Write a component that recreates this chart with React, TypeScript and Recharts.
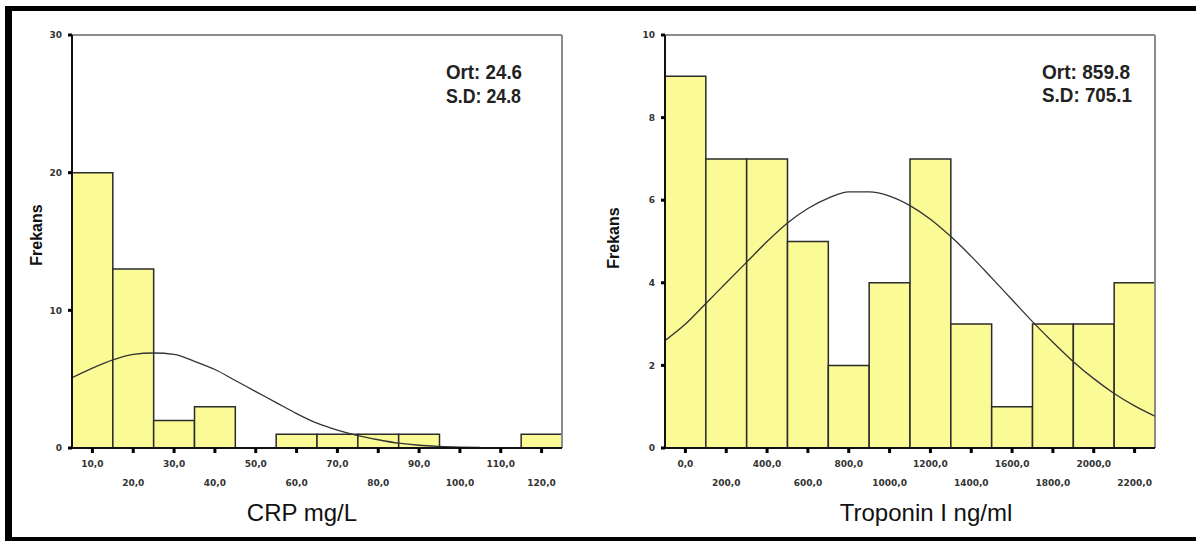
import { Bar, ComposedChart, Line, ReferenceLine, XAxis, YAxis } from "recharts";

// CRP histogram (bin centres, counts) and the fitted curve
const crpBins = [10, 20, 30, 40, 50, 60, 70, 80, 90, 100, 110, 120];
const crpCounts = [20, 13, 2, 3, 0, 1, 1, 1, 1, 0, 0, 1];
const crpCurveX = [5, 10, 15, 20, 25, 30, 35, 40, 45, 50, 55, 60, 65, 70, 75, 80, 85, 90, 95, 100, 105];
const crpCurveY = [5.1, 5.8, 6.4, 6.8, 6.9, 6.8, 6.3, 5.7, 4.9, 4.1, 3.3, 2.5, 1.8, 1.3, 0.9, 0.6, 0.35, 0.2, 0.12, 0.07, 0.04];
const crpYTicks = [0, 10, 20, 30];

// Troponin I histogram
const tropBins = [0, 200, 400, 600, 800, 1000, 1200, 1400, 1600, 1800, 2000, 2200];
const tropCounts = [9, 7, 7, 5, 2, 4, 7, 3, 1, 3, 3, 4];
const tropCurveX = [-100, 0, 100, 200, 300, 400, 500, 600, 700, 800, 900, 1000, 1100, 1200, 1300, 1400, 1500, 1600, 1700, 1800, 1900, 2000, 2100, 2200, 2300];
const tropCurveY = [2.6, 3.0, 3.5, 4.0, 4.5, 5.0, 5.45, 5.8, 6.05, 6.2, 6.2, 6.1, 5.87, 5.54, 5.12, 4.64, 4.12, 3.59, 3.06, 2.56, 2.09, 1.68, 1.32, 1.02, 0.77];
const tropYTicks = [0, 2, 4, 6, 8, 10];

const W = 598;
const H = 541;
const Y_AXIS_W = 30;
const tickFont = { fontSize: 9, fill: "#333", fontWeight: "bold", fontFamily: "DejaVu Sans" } as const;

const fmt = (v: number) => v.toFixed(1).replace(".", ",");

type HistProps = {
  bins: number[];
  counts: number[];
  curveX: number[];
  curveY: number[];
  yTicks: number[];
  left: number;
  right: number;
};

function Histogram({ bins, counts, curveX, curveY, yTicks, left, right }: HistProps) {
  const bars = bins.map((x, i) => ({ x, n: counts[i] }));
  const curve = curveX.map((x, i) => ({ x, f: curveY[i] }));
  const step = bins[1] - bins[0];
  const domain = [bins[0] - step / 2, bins[bins.length - 1] + step / 2];
  const yMax = yTicks[yTicks.length - 1];
  const plotW = W - left - Y_AXIS_W - right;

  // alternate tick labels between two rows, like the original
  const XTick = (p: any) => {
    const i = bins.indexOf(p.payload.value);
    return (
      <text x={p.x} y={p.y + (i % 2 === 0 ? 12 : 31)} textAnchor="middle" {...tickFont}>
        {fmt(p.payload.value)}
      </text>
    );
  };

  return (
    <ComposedChart
      width={W}
      height={H}
      data={bars}
      margin={{ top: 35, right, bottom: 33, left }}
    >
      <XAxis
        type="number"
        dataKey="x"
        domain={domain}
        ticks={bins}
        interval={0}
        allowDataOverflow
        height={60}
        axisLine={{ stroke: "#111", strokeWidth: 2 }}
        tickLine={{ stroke: "#000", strokeWidth: 3 }}
        tickSize={5}
        tick={XTick}
      />
      {/* separate hidden axis for the curve so it doesn't shrink the bars */}
      <XAxis xAxisId="curve" type="number" dataKey="x" domain={domain} allowDataOverflow hide />
      <YAxis
        type="number"
        domain={[0, yMax]}
        ticks={yTicks}
        interval={0}
        width={Y_AXIS_W}
        axisLine={{ stroke: "#111", strokeWidth: 2 }}
        tickLine={{ stroke: "#000", strokeWidth: 3 }}
        tickSize={4}
        tickMargin={6}
        tick={tickFont}
      />
      <ReferenceLine y={yMax} stroke="#8c8c8c" strokeWidth={2} />
      <ReferenceLine x={domain[1]} stroke="#8c8c8c" strokeWidth={2} />
      <Bar
        dataKey="n"
        fill="#fafa96"
        stroke="#2b2b2b"
        strokeWidth={1.5}
        barSize={plotW / bins.length - 0.01}
        isAnimationActive={false}
      />
      <Line
        xAxisId="curve"
        data={curve}
        dataKey="f"
        type="monotone"
        stroke="#333"
        strokeWidth={1.3}
        dot={false}
        activeDot={false}
        isAnimationActive={false}
      />
    </ComposedChart>
  );
}

const statFont = {
  fontFamily: "'Liberation Sans Narrow', 'Liberation Sans', Arial, sans-serif",
  fontWeight: "bold",
  fontSize: 21,
  fill: "#222",
  lengthAdjust: "spacingAndGlyphs",
} as const;
const titleFont = { fontFamily: "'Liberation Sans', Arial, sans-serif", fill: "#111" } as const;

export default function App() {
  return (
    <div style={{ position: "absolute", left: 0, top: 0, width: 1196, height: 541, background: "#fff", overflow: "hidden" }}>
      <div
        style={{
          position: "absolute",
          left: 5,
          top: 6,
          width: 1200,
          height: 526,
          borderLeft: "7px solid #000",
          borderTop: "5px solid #000",
          borderBottom: "4px solid #000",
        }}
      />
      <div style={{ position: "absolute", left: 0, top: 0 }}>
        <Histogram bins={crpBins} counts={crpCounts} curveX={crpCurveX} curveY={crpCurveY} yTicks={crpYTicks} left={42} right={36} />
      </div>
      <div style={{ position: "absolute", left: 598, top: 0 }}>
        <Histogram bins={tropBins} counts={tropCounts} curveX={tropCurveX} curveY={tropCurveY} yTicks={tropYTicks} left={37} right={41} />
      </div>
      <svg width={1196} height={541} style={{ position: "absolute", left: 0, top: 0, pointerEvents: "none" }}>
        <text x={446} y={79} textLength={76} {...statFont}>Ort: 24.6</text>
        <text x={446} y={103} textLength={75} {...statFont}>S.D: 24.8</text>
        <text x={1042} y={79} textLength={88} {...statFont}>Ort: 859.8</text>
        <text x={1042} y={102} textLength={90} {...statFont}>S.D: 705.1</text>
        <text x={302} y={521} textAnchor="middle" fontSize={24} {...titleFont}>CRP mg/L</text>
        <text x={926} y={521} textAnchor="middle" fontSize={24} {...titleFont}>Troponin I ng/ml</text>
        <text x={0} y={0} transform="translate(42 235) rotate(-90)" textAnchor="middle" fontSize={16} fontWeight="bold" {...titleFont}>Frekans</text>
        <text x={0} y={0} transform="translate(619 238) rotate(-90)" textAnchor="middle" fontSize={16} fontWeight="bold" {...titleFont}>Frekans</text>
      </svg>
    </div>
  );
}
